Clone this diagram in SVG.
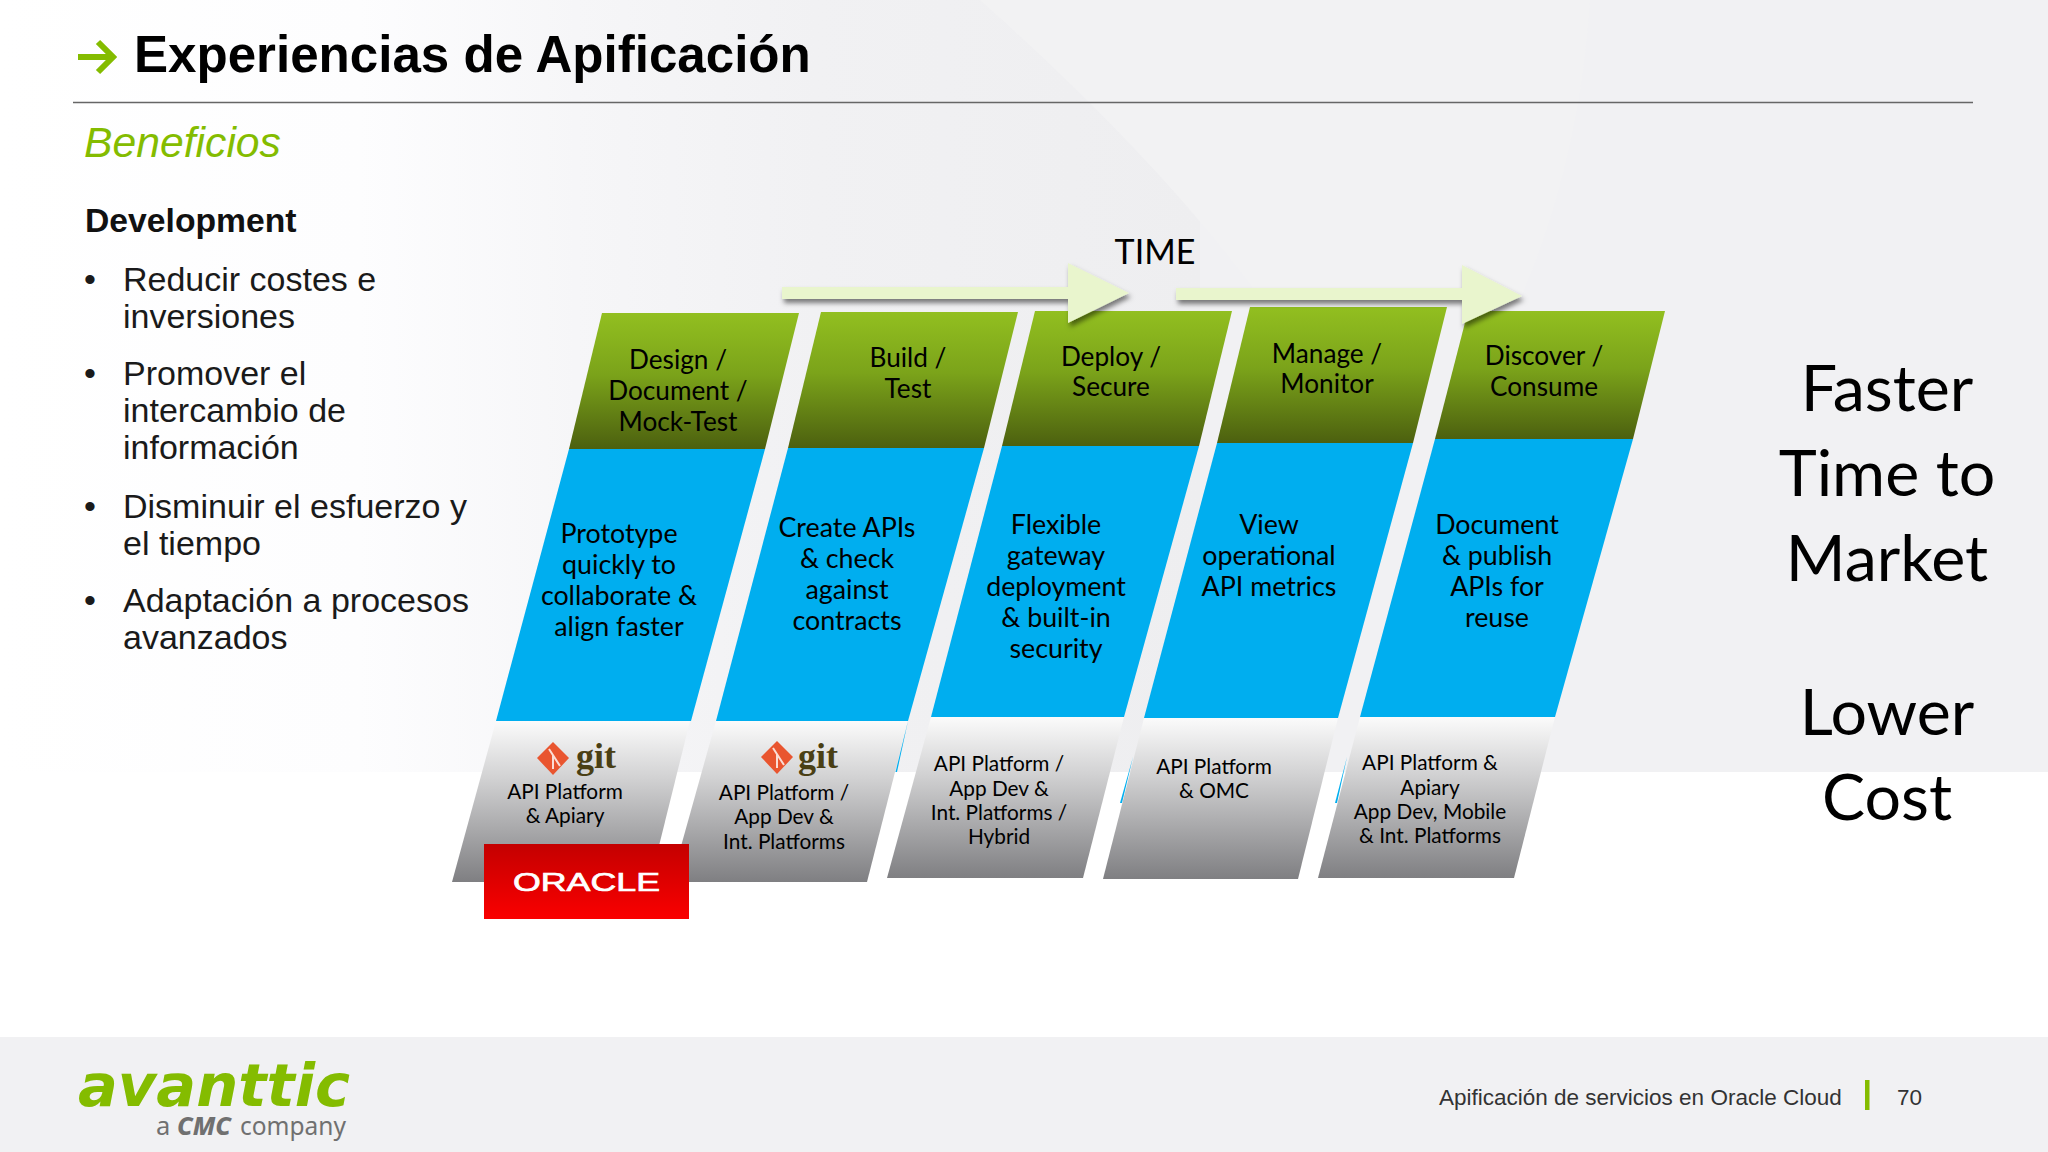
<svg xmlns="http://www.w3.org/2000/svg" width="2048" height="1152" viewBox="0 0 2048 1152">
<defs>
<linearGradient id="bgH" gradientUnits="userSpaceOnUse" x1="0" x2="1200" y1="0" y2="0"><stop offset="0" stop-color="#fff"/><stop offset="0.3" stop-color="#fdfdfe"/><stop offset="0.48" stop-color="#f6f6f8"/><stop offset="0.68" stop-color="#f1f1f3"/><stop offset="1" stop-color="#eeeef0"/></linearGradient>
<linearGradient id="gGreen" x1="0" x2="0" y1="0" y2="1"><stop offset="0" stop-color="#92bf20"/><stop offset="0.45" stop-color="#7ba31a"/><stop offset="1" stop-color="#4c600f"/></linearGradient>
<linearGradient id="gGray" x1="0" x2="0" y1="0" y2="1"><stop offset="0" stop-color="#fbfbfb"/><stop offset="0.35" stop-color="#d2d2d3"/><stop offset="1" stop-color="#7f7f82"/></linearGradient>
<linearGradient id="gRed" x1="0" x2="0" y1="0" y2="1"><stop offset="0" stop-color="#c40000"/><stop offset="1" stop-color="#fa0000"/></linearGradient>
<filter id="sh" x="-10%" y="-30%" width="120%" height="170%"><feDropShadow dx="2" dy="4" stdDeviation="2.500" flood-color="#000" flood-opacity="0.5"/></filter>
</defs>
<style>
.lato{font-family:Lato,"Open Sans",sans-serif;fill:#000;text-anchor:middle}
.h{font-size:26.2px}.b{font-size:26.8px}.s{font-size:20.8px}
.big{font-size:64.5px}
.ar{font-family:"Liberation Sans",Arial,sans-serif}
.li{font-size:34px;fill:#1a1a1a}
.blue{fill:#00aeef}.green{fill:url(#gGreen)}.gray{fill:url(#gGray)}
.git{font-family:"Liberation Serif",serif;font-weight:700;font-size:36px;fill:#4a3f14}
</style>
<rect id="bg" width="2048" height="1152" fill="url(#bgH)"/>
<path d="M1200 0H2048V772H1200Z" fill="#f1f1f3"/>
<path d="M980 0H1590Q1580 160 1520 300H1262Q1160 160 980 0Z" fill="#f2f2f3"/>
<rect y="772" width="2048" height="265" fill="#fff"/>
<rect id="footer" y="1037" width="2048" height="115" fill="#f1f1f3"/>

<g id="header">
<path d="M78 57H112M98 42L113 57L98 72" fill="none" stroke="#84bc00" stroke-width="6"/>
<text class="ar" x="134" y="72" font-size="51.100" font-weight="700" fill="#000">Experiencias de Apificación</text>
<line x1="73" y1="102.500" x2="1973" y2="102.500" stroke="#666" stroke-width="1.600"/>
<text class="ar" x="84" y="156.500" font-size="42.700" font-style="italic" fill="#84bc00">Beneficios</text>
</g>
<g id="benefits" class="ar">
<text x="85" y="232" font-size="33.700" font-weight="700" fill="#111">Development</text>
<text class="li" x="84" y="291">•</text><text class="li" x="123" y="291">Reducir costes e</text><text class="li" x="123" y="328">inversiones</text>
<text class="li" x="84" y="385">•</text><text class="li" x="123" y="385">Promover el</text><text class="li" x="123" y="422">intercambio de</text><text class="li" x="123" y="459">información</text>
<text class="li" x="84" y="518">•</text><text class="li" x="123" y="518">Disminuir el esfuerzo y</text><text class="li" x="123" y="555">el tiempo</text>
<text class="li" x="84" y="612">•</text><text class="li" x="123" y="612">Adaptación a procesos</text><text class="li" x="123" y="649">avanzados</text>
</g>

<g id="col1">
<polygon class="gray" points="496,721 690,721 650,882 452,882"/>
<polygon class="blue" points="569,449 765,449 691,721 496,721"/>
<polygon class="green" points="602,313 799,313 765,449 569,449"/>
<text class="lato h" x="678" y="369">Design /</text><text class="lato h" x="678" y="400">Document /</text><text class="lato h" x="678" y="431">Mock-Test</text>
<text class="lato b" x="619" y="543">Prototype</text><text class="lato b" x="619" y="574">quickly to</text><text class="lato b" x="619" y="605">collaborate &amp;</text><text class="lato b" x="619" y="636">align faster</text>
<path d="M553 742L569 758L553 775L537 758Z" fill="#e9552f"/><path d="M549 749L560 766M553 755V769" stroke="#fff" stroke-width="2" opacity=".8"/>
<text class="git" x="576" y="768">git</text>
<text class="lato s" x="565" y="799">API Platform</text><text class="lato s" x="565" y="823">&amp; Apiary</text>
</g>
<g id="col2">
<polygon class="gray" points="716,721 908,721 867,882 671,882"/>
<polygon class="blue" points="908,721 897,772 895.500,772"/>
<polygon class="blue" points="788,448 984,448 908,721 716,721"/>
<polygon class="green" points="821,312 1018,312 984,448 788,448"/>
<text class="lato h" x="908" y="367">Build /</text><text class="lato h" x="908" y="398">Test</text>
<text class="lato b" x="847" y="537">Create APIs</text><text class="lato b" x="847" y="568">&amp; check</text><text class="lato b" x="847" y="599">against</text><text class="lato b" x="847" y="630">contracts</text>
<path d="M777 741L793 757L777 774L761 757Z" fill="#e9552f"/><path d="M773 748L784 765M777 754V768" stroke="#fff" stroke-width="2" opacity=".8"/>
<text class="git" x="798" y="768">git</text>
<text class="lato s" x="784" y="800">API Platform /</text><text class="lato s" x="784" y="824">App Dev &amp;</text><text class="lato s" x="784" y="849">Int. Platforms</text>
</g>
<g id="col3">
<polygon class="gray" points="931,717 1124,717 1083,878 887,878"/>
<polygon class="blue" points="1002,446 1199,446 1124,717 931,717"/>
<polygon class="green" points="1035,311 1232,311 1199,446 1002,446"/>
<text class="lato h" x="1111" y="366">Deploy /</text><text class="lato h" x="1111" y="396">Secure</text>
<text class="lato b" x="1056" y="534">Flexible</text><text class="lato b" x="1056" y="565">gateway</text><text class="lato b" x="1056" y="596">deployment</text><text class="lato b" x="1056" y="627">&amp; built-in</text><text class="lato b" x="1056" y="658">security</text>
<text class="lato s" x="999" y="771">API Platform /</text><text class="lato s" x="999" y="796">App Dev &amp;</text><text class="lato s" x="999" y="820">Int. Platforms /</text><text class="lato s" x="999" y="844">Hybrid</text>
</g>
<g id="col4">
<polygon class="blue" points="1133,757 1120,803 1122,803"/>
<polygon class="gray" points="1144,718 1338,718 1298,879 1103,879"/>
<polygon class="blue" points="1217,443 1413,443 1338,718 1144,718"/>
<polygon class="green" points="1250,307 1447,307 1413,443 1217,443"/>
<text class="lato h" x="1327" y="363">Manage /</text><text class="lato h" x="1327" y="393">Monitor</text>
<text class="lato b" x="1269" y="534">View</text><text class="lato b" x="1269" y="565">operational</text><text class="lato b" x="1269" y="596">API metrics</text>
<text class="lato s" x="1214" y="774">API Platform</text><text class="lato s" x="1214" y="798">&amp; OMC</text>
</g>
<g id="col5">
<polygon class="blue" points="1347,757 1335,803 1337,803"/>
<polygon class="gray" points="1360,717 1555,717 1514,878 1318,878"/>
<polygon class="blue" points="1435,439 1633,439 1555,717 1360,717"/>
<polygon class="green" points="1468,311 1665,311 1633,439 1435,439"/>
<text class="lato h" x="1544" y="365">Discover /</text><text class="lato h" x="1544" y="396">Consume</text>
<text class="lato b" x="1497" y="534">Document</text><text class="lato b" x="1497" y="565">&amp; publish</text><text class="lato b" x="1497" y="596">APIs for</text><text class="lato b" x="1497" y="627">reuse</text>
<text class="lato s" x="1430" y="770">API Platform &amp;</text><text class="lato s" x="1430" y="795">Apiary</text><text class="lato s" x="1430" y="819">App Dev, Mobile</text><text class="lato s" x="1430" y="843">&amp; Int. Platforms</text>
</g>
<g id="oracle">
<rect x="484" y="844" width="205" height="75" fill="url(#gRed)"/>
<text class="ar" x="513" y="891" font-size="25" fill="#fff" stroke="#fff" stroke-width="0.700" textLength="147" lengthAdjust="spacingAndGlyphs">ORACLE</text>
</g>
<g id="connectors">
<polygon points="782,287 1068,287 1068,263 1129,293 1068,323 1068,299 782,299" fill="#e9f5cd" filter="url(#sh)"/>
<polygon points="1176,288 1462,288 1462,265 1522,296 1462,324 1462,300 1176,300" fill="#e9f5cd" filter="url(#sh)"/>
</g>
<text id="time" class="lato" x="1155" y="264" font-size="34">TIME</text>
<g id="outcomes">
<text class="lato big" x="1887" y="411">Faster</text><text class="lato big" x="1887" y="496">Time to</text><text class="lato big" x="1887" y="581">Market</text>
<text class="lato big" x="1887" y="735">Lower</text><text class="lato big" x="1887" y="820">Cost</text>
</g>
<g id="logo">
<text x="78" y="1106" font-family="DejaVu Sans,sans-serif" font-size="58" font-weight="700" font-style="italic" fill="#84bc00" textLength="272" lengthAdjust="spacingAndGlyphs">avanttic</text>
<text x="156" y="1135" font-family="Noto Sans,sans-serif" font-size="25.500" fill="#707070">a</text>
<text x="177" y="1135" font-family="Noto Sans,sans-serif" font-size="25.500" font-weight="800" font-style="italic" fill="#707070" textLength="54" lengthAdjust="spacingAndGlyphs">CMC</text>
<text x="240" y="1135" font-family="Noto Sans,sans-serif" font-size="25.500" fill="#707070" textLength="106" lengthAdjust="spacingAndGlyphs">company</text>
</g>
<g id="footnote" class="ar">
<text x="1439" y="1104.500" font-size="22.500" fill="#333">Apificación de servicios en Oracle Cloud</text>
<rect x="1865" y="1080" width="4.500" height="30" fill="#84bc00"/>
<text x="1897" y="1104.500" font-size="22.500" fill="#333">70</text>
</g>
</svg>
